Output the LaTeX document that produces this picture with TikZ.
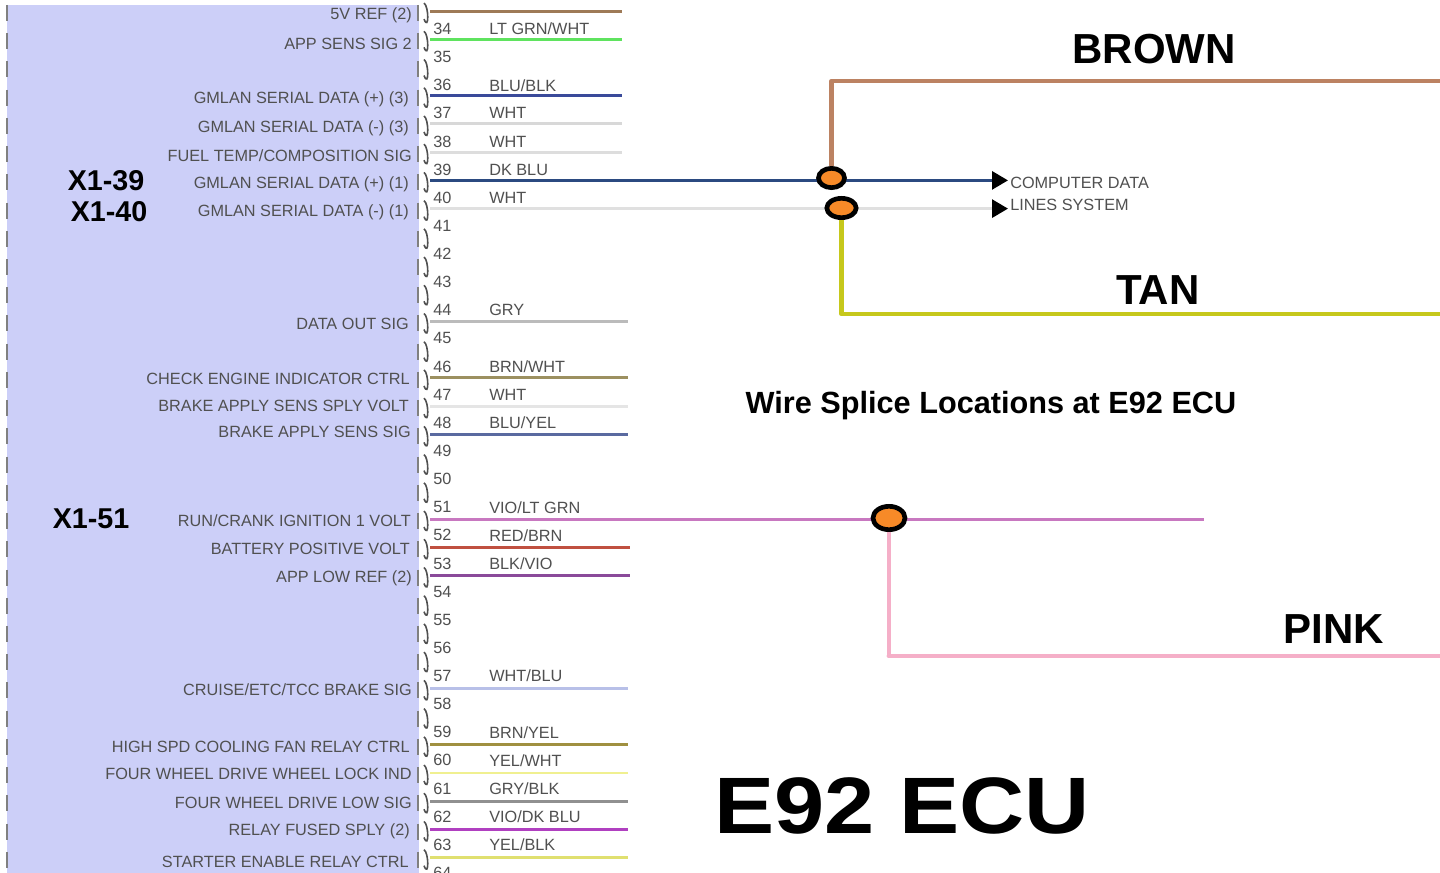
\documentclass[tikz,border=0pt]{standalone}
\usepackage{fontspec}
\setmainfont{Liberation Sans}
\usetikzlibrary{arrows.meta}
\usetikzlibrary{shapes.geometric}
\definecolor{ecublue}{HTML}{CCCFF8}
\definecolor{pinink}{HTML}{505050}
\definecolor{brownw}{HTML}{BC8262}
\definecolor{tanw}{HTML}{C6C81C}
\definecolor{pinkw}{HTML}{F5AFC8}
\definecolor{violw}{HTML}{C878C0}
\definecolor{dkbluw}{HTML}{2B4A80}
\definecolor{whtw}{HTML}{E0E0E0}
\definecolor{splicefill}{HTML}{F78A28}
\tikzset{
  sigtext/.style={anchor=east, inner sep=0pt, yshift=-0.75pt, text=pinink, font=\fontsize{12.2}{13}\selectfont},
  pintext/.style={anchor=west, inner sep=0pt, text=pinink, font=\fontsize{12.2}{13}\selectfont},
  bigtext/.style={inner sep=0pt, font=\bfseries\fontsize{21.5}{24}\selectfont},
  wiretext/.style={inner sep=0pt, font=\bfseries\fontsize{31.5}{34}\selectfont},
  splice/.style={ellipse, draw=black, line width=3.5pt, fill=splicefill, inner sep=0pt},
  wire/.style={line width=2.2pt},
  fatwire/.style={line width=3.6pt},
  edgedash/.style={draw=gray, line width=1.3pt, dash pattern=on 12pt off 9.17pt},
  tip/.style={-{Triangle[length=12pt,width=13.5pt,color=black]}}
}
\begin{document}
\begin{tikzpicture}[x=0.75pt,y=-0.75pt]
\clip (0,0) rectangle (1440,873);
\fill[white] (0,0) rectangle (1440,873);
\fill[ecublue] (7,5) rectangle (419,873);
\draw[edgedash] (7,5) -- (7,873);
\draw[edgedash] (418,5) -- (418,873);

\foreach \n in {33,...,64}{
  \coordinate (pin\n) at (430,{39.3+(\n-34)*28.22});
  \draw[pinink, line width=1.2pt] (pin\n) ++(-6,-8) .. controls +(5,3) and +(5,13) .. +(0,16);
}
\foreach \n in {34,...,64}
  \node[pintext] (num\n) at (433,{29+(\n-34)*28.13}) {\n};

\foreach \n/\wx/\wcol/\wtxt in {
  34/622/5FE35F/{LT GRN/WHT}, 36/622/3A4A9A/{BLU/BLK}, 37/622/D8D8D8/WHT,
  38/622/DDDDDD/WHT, 39/832/2B4A80/DK BLU, 40/841/E0E0E0/WHT,
  44/628/BBBBBB/GRY, 46/628/9C9060/{BRN/WHT}, 47/628/E5E5E5/WHT,
  48/628/5A6AA0/{BLU/YEL}, 51/889/C878C0/{VIO/LT GRN}, 52/630/C05040/{RED/BRN},
  53/630/8A4A9A/{BLK/VIO}, 57/628/B8C0E8/{WHT/BLU}, 59/628/A09040/{BRN/YEL},
  60/628/F0F090/{YEL/WHT}, 61/628/909090/{GRY/BLK}, 62/628/B040C0/{VIO/DK BLU},
  63/628/E0E070/{YEL/BLK}}{
  \definecolor{wcur}{HTML}{\wcol}
  \coordinate (end\n) at (pin\n -| {\wx*0.75pt,0});
  \draw[wire, wcur] (pin\n) -- (end\n);
  \node[pintext] (lab\n) at (489,{29+(\n-34)*28.13}) {\wtxt};
}
\coordinate (end33) at (pin33 -| {622*0.75pt,0});
\draw[wire, brown!70!black!80] (pin33) -- (end33);

\foreach \sx/\sy/\stxt [count=\i] in {
  412/14/5V REF (2), 412/43/APP SENS SIG 2, 409/98/GMLAN SERIAL DATA (+) (3),
  409/127/GMLAN SERIAL DATA (-) (3), 412/155/{FUEL TEMP/COMPOSITION SIG},
  409/183/GMLAN SERIAL DATA (+) (1), 409/211/GMLAN SERIAL DATA (-) (1),
  409/323/DATA OUT SIG, 410/378/CHECK ENGINE INDICATOR CTRL,
  409/405/BRAKE APPLY SENS SPLY VOLT, 411/431/BRAKE APPLY SENS SIG,
  411/520/{RUN/CRANK IGNITION 1 VOLT}, 410/548/BATTERY POSITIVE VOLT,
  412/577/APP LOW REF (2), 412/689/{CRUISE/ETC/TCC BRAKE SIG},
  410/746/HIGH SPD COOLING FAN RELAY CTRL, 412/773/FOUR WHEEL DRIVE WHEEL LOCK IND,
  412/802/FOUR WHEEL DRIVE LOW SIG, 410/830/RELAY FUSED SPLY (2),
  409/861/STARTER ENABLE RELAY CTRL}
  \node[sigtext] (sig\i) at (\sx,\sy) {\stxt};

\node[bigtext] (x39) at (106,181) {X1-39};
\node[bigtext] (x40) at (109,212) {X1-40};
\node[bigtext] (x51) at (91,519) {X1-51};

\coordinate (dataEnd) at (pin39 -| {1008*0.75pt,0});
\coordinate (lineEnd) at (pin40 -| {1008*0.75pt,0});
\coordinate (violEnd) at (pin51 -| {1204*0.75pt,0});
\path[wire]
(end39) edge[tip, dkbluw] (dataEnd)
(end40) edge[tip, whtw] (lineEnd)
(end51) edge[violw] (violEnd);

\node[splice, minimum width=19.5pt, minimum height=14.5pt] (spliceBrn) at (831.5,178) {};
\node[splice, minimum width=22pt, minimum height=14.5pt] (spliceTan) at (841.5,208) {};
\node[splice, minimum width=24pt, minimum height=17.5pt] (splicePnk) at (889,518) {};

\coordinate (brnTop) at (831.5,81);
\coordinate (brnEnd) at (1440,81);
\coordinate (tanLow) at (841.5,314);
\coordinate (tanEnd) at (1440,314);
\coordinate (pnkLow) at (889,656);
\coordinate (pnkEnd) at (1440,656);

\path[fatwire]
(spliceBrn) edge[brownw] (brnTop)
(brnTop) edge[brownw, line cap=round] (brnEnd)
(spliceTan) edge[tanw] (tanLow)
(tanLow) edge[tanw, line cap=round] (tanEnd)
(splicePnk) edge[pinkw] (pnkLow)
(pnkLow) edge[pinkw, line cap=round] (pnkEnd);

\node[pintext] (dataLab) at (1010,183) {COMPUTER DATA};
\node[pintext] (lineLab) at (1010,205) {LINES SYSTEM};

\node[wiretext] (brnLab) at (1154,49) {BROWN};
\node[wiretext] (tanLab) at (1158,290) {TAN};
\node[wiretext] (pnkLab) at (1334,629) {PINK};
\node[inner sep=0pt, font=\bfseries\fontsize{23}{26}\selectfont] (spliceTitle) at (991,406) {Wire Splice Locations at E92 ECU};
\node[inner sep=0pt, font=\bfseries\fontsize{60}{64}\selectfont] (ecuTitle) at (902,806) {\scalebox{1.127}[1]{E92 ECU}};
\end{tikzpicture}
\end{document}
